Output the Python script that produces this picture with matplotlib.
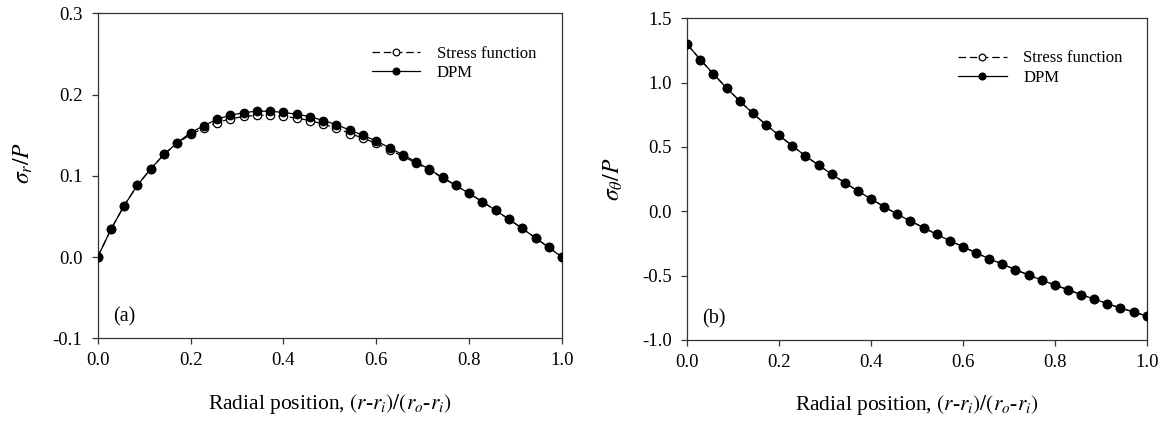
import matplotlib
matplotlib.use('Agg')
import matplotlib.pyplot as plt

plt.rcParams['font.family'] = ['Liberation Serif', 'DejaVu Serif']
plt.rcParams['mathtext.fontset'] = 'stix'

# radial position (r-ri)/(ro-ri), 36 stations
x_pos = [0.0, 0.0286, 0.0571, 0.0857, 0.1143, 0.1429, 0.1714, 0.2, 0.2286,
         0.2571, 0.2857, 0.3143, 0.3429, 0.3714, 0.4, 0.4286, 0.4571, 0.4857,
         0.5143, 0.5429, 0.5714, 0.6, 0.6286, 0.6571, 0.6857, 0.7143, 0.7429,
         0.7714, 0.8, 0.8286, 0.8571, 0.8857, 0.9143, 0.9429, 0.9714, 1.0]

# (a) radial stress sigma_r / P
sr_stress_fn = [0.0, 0.0342, 0.0634, 0.0885, 0.1086, 0.1264, 0.1400, 0.1510,
                0.1587, 0.1656, 0.1700, 0.1730, 0.1745, 0.1745, 0.1732, 0.1710,
                0.1680, 0.1635, 0.1585, 0.1520, 0.1464, 0.1398, 0.1321, 0.1239,
                0.1158, 0.1069, 0.0975, 0.0881, 0.0783, 0.0681, 0.0575, 0.0465,
                0.0352, 0.0236, 0.0118, 0.0]
sr_dpm = [0.0, 0.0342, 0.0634, 0.0885, 0.1086, 0.1264, 0.1407, 0.1530, 0.1617,
          0.1696, 0.1745, 0.1778, 0.1795, 0.1795, 0.1780, 0.1758, 0.1728,
          0.1680, 0.1630, 0.1562, 0.1499, 0.1428, 0.1346, 0.1259, 0.1173,
          0.1079, 0.0980, 0.0881, 0.0783, 0.0681, 0.0575, 0.0465, 0.0352,
          0.0236, 0.0118, 0.0]

# (b) hoop stress sigma_theta / P
st_stress_fn = [1.298, 1.178, 1.067, 0.958, 0.857, 0.761, 0.673, 0.590, 0.509,
                0.431, 0.359, 0.289, 0.222, 0.158, 0.096, 0.036, -0.023,
                -0.075, -0.127, -0.179, -0.228, -0.275, -0.323, -0.368,
                -0.410, -0.453, -0.495, -0.534, -0.573, -0.609, -0.648,
                -0.681, -0.718, -0.751, -0.782, -0.814]
st_dpm = [1.298, 1.178, 1.067, 0.958, 0.857, 0.761, 0.673, 0.590, 0.509,
          0.431, 0.359, 0.289, 0.222, 0.158, 0.096, 0.036, -0.023, -0.075,
          -0.127, -0.179, -0.228, -0.275, -0.323, -0.368, -0.410, -0.453,
          -0.495, -0.534, -0.573, -0.609, -0.648, -0.681, -0.718, -0.751,
          -0.782, -0.814]

x_label = r'Radial position, $(r$-$r_i)/(r_o$-$r_i)$'

fig = plt.figure(figsize=(11.67, 4.21), dpi=100)
ax1 = fig.add_axes([0.0837, 0.1964, 0.3979, 0.7720])
ax2 = fig.add_axes([0.5889, 0.1924, 0.3937, 0.7641])

panels = [
    (ax1, sr_stress_fn, sr_dpm, (-0.1, 0.3), [-0.1, 0.0, 0.1, 0.2, 0.3],
     r'$\sigma_r/P$', '(a)', 0.54),
    (ax2, st_stress_fn, st_dpm, (-1.0, 1.5), [-1.0, -0.5, 0.0, 0.5, 1.0, 1.5],
     r'$\sigma_\theta/P$', '(b)', 0.50),
]

for ax, y_sf, y_dpm, ylim, yticks, ylab, tag, ylab_y in panels:
    ax.plot(x_pos, y_sf, color='black', lw=0.9, ls=(0, (6, 3)), marker='o',
            ms=6, mfc='white', mec='black', mew=0.9, label='Stress function',
            zorder=3)
    ax.plot(x_pos, y_dpm, color='black', lw=0.9, ls='-', marker='o',
            ms=6, mfc='black', mec='black', label='DPM', zorder=4)

    ax.set_xlim(0, 1)
    ax.set_ylim(*ylim)
    ax.set_xticks([0.0, 0.2, 0.4, 0.6, 0.8, 1.0])
    ax.set_yticks(yticks)
    ax.xaxis.set_major_formatter(matplotlib.ticker.FormatStrFormatter('%.1f'))
    ax.yaxis.set_major_formatter(matplotlib.ticker.FormatStrFormatter('%.1f'))
    ax.tick_params(axis='both', direction='out', length=4, width=0.9,
                   labelsize=13.5, color='#333333', pad=6)
    ax.tick_params(axis='y', pad=7)
    for sp in ax.spines.values():
        sp.set_color('#333333')
        sp.set_linewidth(0.9)

    ax.set_xlabel(x_label, fontsize=15.5)
    ax.xaxis.set_label_coords(0.5, -0.165)
    ax.set_ylabel(ylab, fontsize=17)
    ax.yaxis.set_label_coords(-0.135, ylab_y)

    ax.text(0.033, 0.065, tag, transform=ax.transAxes, fontsize=14.5,
            ha='left', va='center')

    ax.legend(loc='upper left', bbox_to_anchor=(0.59, 0.90), frameon=False,
              fontsize=12, handlelength=2.9, handletextpad=1.0,
              labelspacing=0.2, borderpad=0, borderaxespad=0, markerscale=0.8)

fig.savefig('out.png', dpi=100, facecolor='white')
